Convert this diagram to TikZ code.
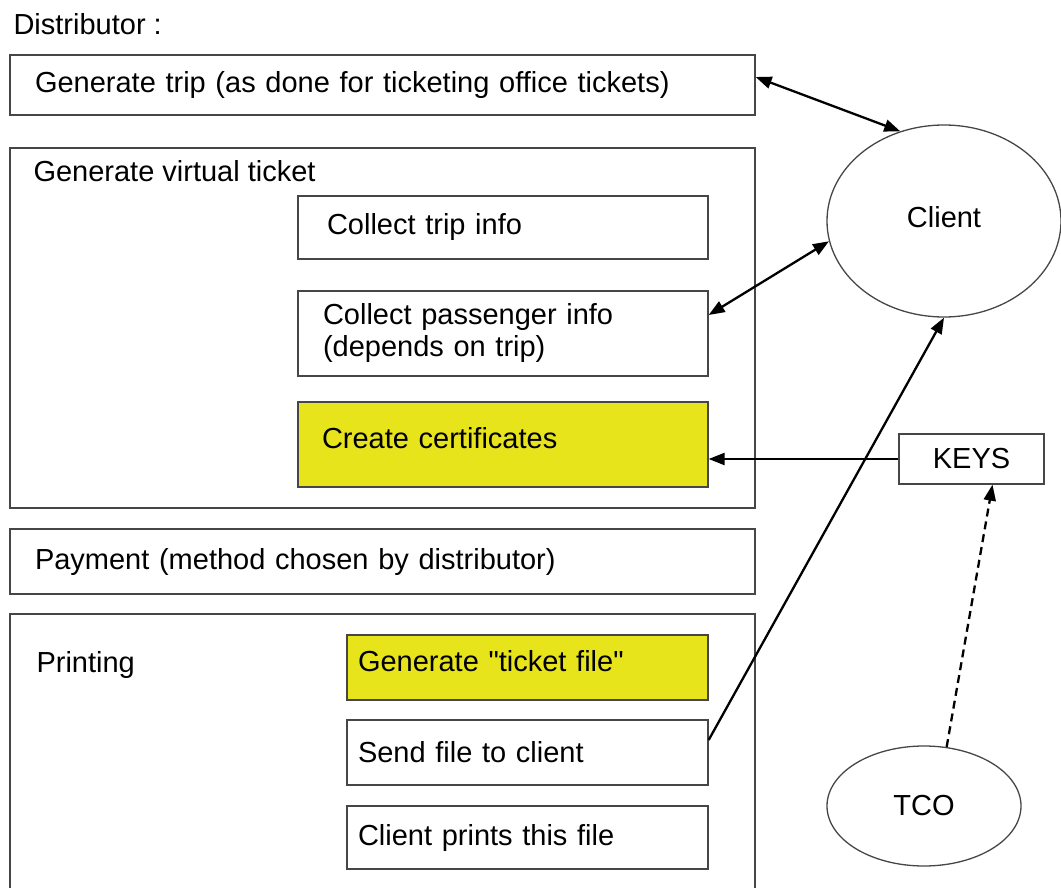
\documentclass[tikz,border=0pt]{standalone}
\usepackage{fontspec}
\setmainfont{Liberation Sans}[Ligatures={TeXOff,CommonOff}]
\usetikzlibrary{arrows.meta,shapes.geometric}
\definecolor{certyellow}{RGB}{232,228,28}
\definecolor{boxgray}{RGB}{70,70,70}

\begin{document}
\begin{tikzpicture}[x=1pt,y=-1pt,font=\fontsize{29}{32}\selectfont,
  box/.style={draw=boxgray,line width=1.3pt,inner sep=0pt,align=left},
  hilite/.style={box,fill=certyellow,text depth=13pt},
  actor/.style={ellipse,draw=boxgray,line width=1.3pt,inner sep=0pt},
  link/.style={line width=2.3pt,-{Triangle[length=16pt,width=12pt]}},
  twoway/.style={line width=2.3pt,{Triangle[length=16pt,width=12pt]}-{Triangle[length=16pt,width=12pt]}}]
\useasboundingbox (0,0) rectangle (1061,888);
\node[anchor=base west] (distrib) at (10,35) {Distributor :};
\node[box,minimum width=745,minimum height=60,text width=695] (trip) at (382.5,85) {Generate trip (as done for ticketing office tickets)};
% virtual ticket
\node[box,minimum width=745,minimum height=360] (virtual) at (382.5,328) {};
\node[anchor=base west] (virtualtitle) at (30,182) {Generate virtual ticket};
\node[box,minimum width=410,minimum height=63,text width=352] (tripinfo) at (503,227.5) {Collect trip info};
\node[box,minimum width=410,minimum height=85,text width=360] (paxinfo) at (503,333.5) {Collect passenger info\\(depends on trip)};
\node[hilite,minimum width=410,minimum height=85,text width=362] (certs) at (503,444.5) {Create certificates};
\node[box,minimum width=745,minimum height=65,text width=695] (payment) at (382.5,561.5) {Payment (method chosen by distributor)};
% printing
\node[box,minimum width=745,minimum height=276] (printing) at (382.5,752) {};
\node[anchor=base west] (printingtitle) at (33,672) {Printing};
\node[hilite,minimum width=361,minimum height=65,text width=339] (ticketfile) at (527.5,667.5) {Generate "ticket file"};
\node[box,minimum width=361,minimum height=65,text width=339] (sendfile) at (527.5,752.5) {Send file to client};
\node[box,minimum width=361,minimum height=63,text width=339] (clientprints) at (527.5,837.5) {Client prints this file};
% outside
\node[actor,minimum width=234,minimum height=192,text depth=8pt] (client) at (944,221) {Client};
\node[box,minimum width=145,minimum height=50,align=center] (keys) at (971.5,459) {KEYS};
\node[actor,minimum width=194,minimum height=120] (tco) at (924,806) {TCO};
\draw[twoway] ([yshift=8pt]trip.east) -- (client.116);
\draw[twoway] ([yshift=18.5pt]paxinfo.east) -- (client.190);
\draw[link] (keys.west) -- (keys.west -| certs.east);
\draw[link] ([yshift=12.5pt]sendfile.east) -- (client.south);
\draw[link,dash pattern=on 8pt off 5pt] (tco.69) -- ([xshift=21pt]keys.south);
\end{tikzpicture}
\end{document}
